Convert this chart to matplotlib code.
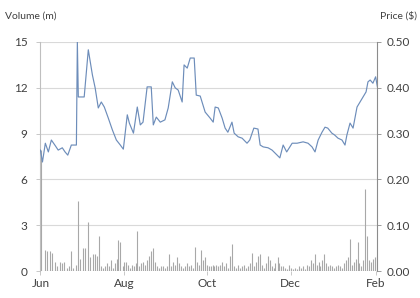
import numpy as np
import pandas as pd
import matplotlib
matplotlib.use('Agg')
import matplotlib.pyplot as plt
import matplotlib.dates as mdates

plt.rcParams['font.family'] = ['Lato', 'DejaVu Sans']

start = pd.Timestamp('2016-06-01')

# price line: days after 1 June, price in $
price_days = [0, 1.5, 3.6, 5.8, 8, 11, 13, 16, 18, 20, 22.6, 26.3, 27, 27.7, 32, 35, 38, 40,
              42.3, 44.5, 46.7, 49.6, 52.6, 55.5, 58.4, 60.6, 63.5, 65, 68, 70.8, 73, 75, 78,
              81, 82.5, 84.7, 87.6, 91, 93.4, 96.4, 98.5, 100.7, 103.6, 105, 107.3, 109.5,
              112.4, 113.9, 116.8, 120.4, 124, 126.3, 127.7, 130, 132.8, 135, 137, 140, 141.6,
              144.5, 147.4, 151, 153, 156, 159, 160.6, 162.8, 166.4, 169.3, 173, 175, 177.4,
              180, 184, 187.6, 192, 195.6, 198.5, 200.7, 203, 205.8, 208, 210, 213, 215,
              217.5, 220.4, 222.6, 224, 226.3, 228.5, 231.4, 233.6, 235.8, 238, 239.4, 241,
              243, 245, 246.3]
prices = [0.264, 0.238, 0.279, 0.260, 0.286, 0.273, 0.264, 0.269, 0.260, 0.253, 0.275, 0.275,
          0.500, 0.380, 0.380, 0.483, 0.428, 0.400, 0.356, 0.369, 0.358, 0.334, 0.308, 0.286,
          0.275, 0.266, 0.341, 0.323, 0.301, 0.358, 0.319, 0.325, 0.402, 0.402, 0.319, 0.336,
          0.325, 0.330, 0.356, 0.413, 0.400, 0.395, 0.369, 0.450, 0.443, 0.465, 0.465, 0.384,
          0.382, 0.347, 0.334, 0.325, 0.358, 0.356, 0.334, 0.312, 0.303, 0.325, 0.301, 0.293,
          0.290, 0.279, 0.286, 0.312, 0.310, 0.275, 0.271, 0.269, 0.264, 0.253, 0.247, 0.275,
          0.260, 0.279, 0.279, 0.282, 0.279, 0.271, 0.260, 0.286, 0.303, 0.314, 0.312, 0.301,
          0.297, 0.290, 0.286, 0.275, 0.297, 0.323, 0.312, 0.358, 0.369, 0.380, 0.391, 0.413,
          0.417, 0.410, 0.424, 0.402]

# volume bars: days after 1 June, volume in millions
vol_days = [0.4, 3.6, 5, 7, 8.8, 11, 12.4, 14, 16, 17.5, 19.7, 21, 22.6, 24, 26.3, 27.7, 29,
            31.4, 32.8, 35, 36.5, 38.7, 40.1, 41.6, 43, 44.5, 46, 47.5, 49, 50.4, 51.8, 53.3,
            54.7, 56, 56.9, 58.4, 60, 61.3, 62.8, 64, 65.7, 67, 68.6, 70, 70.8, 72.3, 73.7,
            75, 76.6, 78, 79.5, 81, 82.5, 84, 85.4, 87, 88.3, 89.8, 91, 92.7, 94.2, 95.6, 97,
            98.5, 100, 101.4, 102.8, 104.3, 105.7, 107, 108.6, 110, 111.5, 112.9, 114.3, 115.8,
            117.2, 118.6, 120, 121.5, 123, 124.4, 125.8, 127.2, 128.6, 130, 131.5, 133, 134.3,
            135.8, 137.2, 138.7, 140, 141.6, 143, 144.5, 145.9, 147.4, 148.8, 150.3, 151.7, 153,
            154.6, 156, 157.5, 158.9, 160.3, 161.8, 163.2, 164.6, 166, 167.5, 169, 170.4, 171.8,
            173.3, 174.7, 176, 177.6, 179, 180.4, 182, 183.2, 184.7, 186, 187.6, 189, 190.4,
            191.9, 193.3, 194.7, 196, 197.6, 199, 200.4, 201.8, 203.3, 204.7, 206, 207.4, 209,
            210.4, 211.8, 213.2, 214.6, 216, 217.5, 219, 220.4, 221.8, 223.3, 224.7, 226, 227.5,
            229, 230.4, 231.8, 233.2, 234.6, 236, 237.5, 239, 240.3, 241.8, 243.2, 244.6, 246]
volumes = [7.9, 1.4, 1.3, 1.3, 1.2, 0.6, 0.3, 0.6, 0.5, 0.6, 0.2, 0.3, 1.3, 0.2, 0.4, 4.6, 0.8,
           1.5, 1.5, 3.2, 0.9, 1.1, 1.1, 1.0, 2.3, 0.3, 0.2, 0.3, 0.5, 0.3, 0.7, 0.2,
           0.5, 0.8, 2.0, 1.9, 0.3, 0.6, 0.6, 0.4, 0.2, 0.4, 0.3, 0.5, 2.6, 0.3, 0.5,
           0.6, 0.4, 0.7, 1.0, 1.3, 1.5, 0.6, 0.3, 0.2, 0.3, 0.3, 0.2, 0.3, 1.1, 0.3, 0.6,
           0.4, 0.9, 0.5, 0.3, 0.2, 0.3, 0.5, 0.3, 0.4, 0.2, 1.6, 0.6, 0.4,
           1.4, 0.7, 0.9, 0.4, 0.3, 0.3, 0.4, 0.3, 0.4, 0.3, 0.4, 0.6, 0.3,
           0.5, 0.2, 1.0, 1.8, 0.3, 0.2, 0.4, 0.2, 0.3, 0.4, 0.2, 0.3, 0.5,
           1.15, 0.3, 0.6, 1.0, 1.1, 0.4, 0.2, 0.5, 1.0, 0.7, 0.3, 0.2, 0.5,
           0.9, 0.5, 0.3, 0.3, 0.2, 0.1, 0.4, 0.2, 0.1, 0.2, 0.1, 0.3, 0.2,
           0.3, 0.1, 0.4, 0.3, 0.7, 0.5, 1.1, 0.4, 0.6, 0.3, 0.7, 1.1, 0.5,
           0.3, 0.4, 0.3, 0.2, 0.3, 0.4, 0.3, 0.2, 0.5, 0.7, 0.9, 2.1, 0.4,
           0.6, 0.8, 1.9, 0.5, 0.3, 0.7, 5.4, 2.3, 0.7, 0.6, 0.8, 0.9, 1.0]

vol_ticks = [0, 3, 6, 9, 12, 15]
price_ticks = [0.0, 0.1, 0.2, 0.3, 0.4, 0.5]

price_dates = start + pd.to_timedelta(price_days, unit='D')
vol_dates = start + pd.to_timedelta(vol_days, unit='D')

fig = plt.figure(figsize=(4.2, 2.98), dpi=100)
ax = fig.add_axes([40/420, 27/298, 337/420, 229/298])
ax2 = ax.twinx()

# volume bars on the left axis, one thin stick per trading day
ax.vlines(vol_dates, 0, volumes, colors='#a8a8a8', linewidth=0.8, zorder=2)
ax.set_ylim(0, 15)
ax.set_yticks(vol_ticks)
ax.yaxis.grid(True, color='#d9d9d9', linewidth=0.8, zorder=0)
ax.set_axisbelow(True)

# price line on the right axis
ax2.plot(price_dates, prices, color='#6d8dba', linewidth=0.85, zorder=3)
ax2.set_ylim(0, 0.5)
ax2.set_yticks(price_ticks)
ax2.set_yticklabels(['%.2f' % p for p in price_ticks])

ax.set_xlim(start - pd.Timedelta(days=0.3), start + pd.Timedelta(days=246))
ax.xaxis.set_major_locator(mdates.MonthLocator(bymonth=[6, 8, 10, 12, 2]))
ax.xaxis.set_major_formatter(mdates.DateFormatter('%b'))

for a in (ax, ax2):
    for s in ('top', 'bottom'):
        a.spines[s].set_visible(False)
    a.tick_params(labelsize=8.5, colors='#404040', length=3, width=0.6)
ax.spines['left'].set_color('#bfbfbf')
ax.spines['right'].set_visible(False)
ax2.spines['left'].set_visible(False)
ax2.spines['right'].set_color('#8c8c8c')
ax.tick_params(axis='y', color='#bfbfbf', pad=6)
ax2.tick_params(axis='y', color='#8c8c8c', pad=4)
ax.tick_params(axis='x', color='#bfbfbf', length=3, pad=2)

fig.text(5/420, 1 - 16/298, 'Volume (m)', fontsize=7.5, color='#404040', va='center', ha='left')
fig.text(417/420, 1 - 16/298, 'Price ($)', fontsize=7.5, color='#404040', va='center', ha='right')

fig.savefig('out.png', dpi=100)
